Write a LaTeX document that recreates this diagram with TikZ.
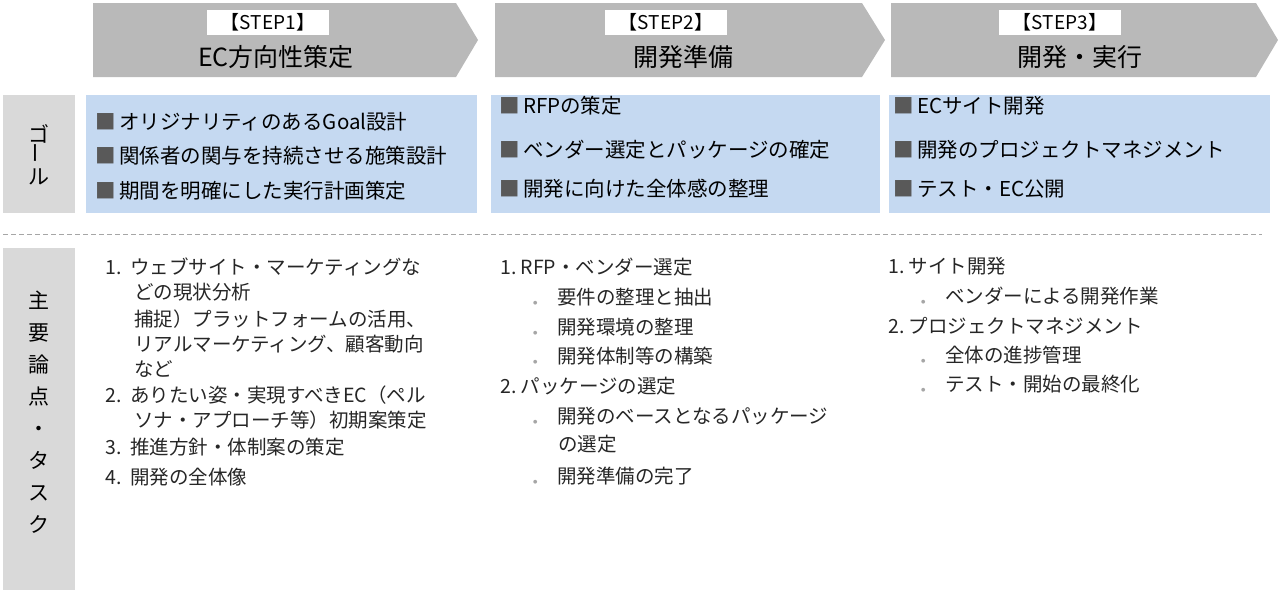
\documentclass[tikz,border=0pt]{standalone}
\usepackage{fontspec}
\setmainfont{Noto Sans CJK JP}
\newfontfamily\myDejaVu{DejaVu Sans}
\begin{document}
\begin{tikzpicture}[x=1pt,y=-1pt,
  arrowbox/.style={fill=gray!55!white,draw=none},
  steplabel/.style={fill=white,minimum width=122pt,minimum height=25pt,inner sep=0pt,font=\fontsize{19}{19}\selectfont},
  titletxt/.style={font=\fontsize{25}{25}\selectfont},
  sidebox/.style={fill=gray!30!white,draw=none},
  gtxt/.style={anchor=west,font=\fontsize{20.5}{20.5}\selectfont,inner sep=0pt},
  ttxt/.style={anchor=west,font=\fontsize{19.5}{19.5}\selectfont,inner sep=0pt,text=black!85}]
\definecolor{goalblue}{RGB}{197,217,241}
\useasboundingbox (0,0) rectangle (1278,590);
\fill[goalblue] (86,95) rectangle (477,213);
\fill[goalblue] (491,95) rectangle (880,213);
\fill[goalblue] (889,95) rectangle (1270,213);
% arrows
\fill[arrowbox] (93,3) -- (456,3) -- (478,40) -- (456,77) -- (93,77) -- cycle;
\fill[arrowbox] (495,3) -- (862,3) -- (885,40) -- (862,77) -- (495,77) -- cycle;
\fill[arrowbox] (891,3) -- (1256,3) -- (1278,40) -- (1256,77) -- (891,77) -- cycle;
\node[steplabel] (s1) at (268,22) {【STEP1】};
\node[steplabel] (s2) at (666,22) {【STEP2】};
\node[steplabel] (s3) at (1060,22) {【STEP3】};
\node[titletxt] (t1) at (276,57) {EC方向性策定};
\node[titletxt] (t2) at (683,57) {開発準備};
\node[titletxt] (t3) at (1080,57) {開発・実行};
% side boxes
\fill[sidebox] (3,95) rectangle (75,213);
\fill[sidebox] (3,248) rectangle (75,590);
\node[font=\fontsize{21}{23}\selectfont,align=center,inner sep=0pt] (gl) at (39,155) {ゴ\\[-2pt]\rotatebox{90}{ー}\\[-2pt]ル};
\node[font=\fontsize{21}{32}\selectfont,align=center,inner sep=0pt] (tl) at (39,412) {主\\要\\論\\点\\・\\タ\\ス\\ク};
\draw[gray!70,line width=1pt,dash pattern=on 5pt off 3pt] (3,234) -- (1262,234);
% goals
\newcommand{\sq}{{\color{black!65}■}\,}
\node[gtxt] (g11) at (95,122) {\sq オリジナリティのあるGoal設計};
\node[gtxt] (g12) at (95,156) {\sq 関係者の関与を持続させる施策設計};
\node[gtxt] (g13) at (95,191) {\sq 期間を明確にした実行計画策定};
\node[gtxt] (g21) at (499,106) {\sq RFPの策定};
\node[gtxt] (g22) at (499,150) {\sq ベンダー選定とパッケージの確定};
\node[gtxt] (g23) at (499,189) {\sq 開発に向けた全体感の整理};
\node[gtxt] (g31) at (893,106) {\sq ECサイト開発};
\node[gtxt] (g32) at (893,150) {\sq 開発のプロジェクトマネジメント};
\node[gtxt] (g33) at (893,189) {\sq テスト・EC公開};
% tasks
\newcommand{\dt}{{\myDejaVu\color{black!35}\tiny●}\quad}
\node[ttxt] (a1) at (105,267) {1.\ \ ウェブサイト・マーケティングな};
\node[ttxt] (a2) at (134,292) {どの現状分析};
\node[ttxt] (a3) at (134,319) {捕捉）プラットフォームの活用、};
\node[ttxt] (a4) at (134,344) {リアルマーケティング、顧客動向};
\node[ttxt] (a5) at (134,369) {など};
\node[ttxt] (a6) at (105,395) {2.\ \ ありたい姿・実現すべきEC（ペル};
\node[ttxt] (a7) at (134,420) {ソナ・アプローチ等）初期案策定};
\node[ttxt] (a8) at (105,447) {3.\ \ 推進方針・体制案の策定};
\node[ttxt] (a9) at (105,477) {4.\ \ 開発の全体像};
\node[ttxt] (b1) at (500,267) {1.\ RFP・ベンダー選定};
\node[ttxt] (b2) at (533,297) {\dt 要件の整理と抽出};
\node[ttxt] (b3) at (533,327) {\dt 開発環境の整理};
\node[ttxt] (b4) at (533,356) {\dt 開発体制等の構築};
\node[ttxt] (b5) at (500,386) {2.\ パッケージの選定};
\node[ttxt] (b6) at (533,416) {\dt 開発のベースとなるパッケージ};
\node[ttxt] (b7) at (558,444) {の選定};
\node[ttxt] (b8) at (533,476) {\dt 開発準備の完了};
\node[ttxt] (c1) at (888,266) {1.\ サイト開発};
\node[ttxt] (c2) at (921,296) {\dt ベンダーによる開発作業};
\node[ttxt] (c3) at (888,326) {2.\ プロジェクトマネジメント};
\node[ttxt] (c4) at (921,355) {\dt 全体の進捗管理};
\node[ttxt] (c5) at (921,384) {\dt テスト・開始の最終化};
\end{tikzpicture}
\end{document}
